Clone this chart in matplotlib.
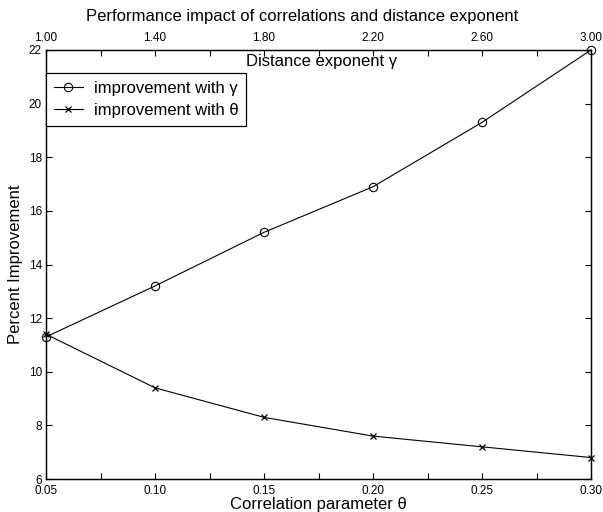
import numpy as np
import matplotlib
matplotlib.use("Agg")
import matplotlib.pyplot as plt

plt.rcParams['font.family'] = ['Liberation Sans', 'DejaVu Sans']

# data
theta = [0.05, 0.10, 0.15, 0.20, 0.25, 0.30]
imp_theta = [11.4, 9.4, 8.3, 7.6, 7.2, 6.8]

gamma = [1.00, 1.40, 1.80, 2.20, 2.60, 3.00]
imp_gamma = [11.3, 13.2, 15.2, 16.9, 19.3, 22.0]

theta_ticks = [0.05, 0.10, 0.15, 0.20, 0.25, 0.30]
gamma_ticks = [1.00, 1.40, 1.80, 2.20, 2.60, 3.00]
y_ticks = [6, 8, 10, 12, 14, 16, 18, 20, 22]

W, H = 603, 512
fig = plt.figure(figsize=(W / 100, H / 100), dpi=100)
ax = fig.add_axes([46 / W, (H - 479) / H, 545 / W, 429 / H])
ax2 = ax.twiny()

# bottom axis: correlation parameter
l_theta, = ax.plot(theta, imp_theta, color="black", linewidth=0.8,
                   marker="x", markersize=5, markeredgewidth=0.9,
                   label="improvement with θ", clip_on=False)
ax.set_xlim(0.05, 0.30)
ax.set_ylim(6, 22)
ax.set_xticks(theta_ticks)
ax.set_xticklabels([f"{t:.2f}" for t in theta_ticks])
ax.set_xticks(np.arange(0.075, 0.30, 0.05), minor=True)
ax.set_yticks(y_ticks)
ax.tick_params(axis="both", which="both", direction="in", length=4,
               labelsize=8.5, width=0.8)
ax.tick_params(axis="x", pad=4)
ax.tick_params(axis="y", pad=3, right=True)
ax.set_xlabel("Correlation parameter θ", fontsize=12, labelpad=0)
ax.set_ylabel("Percent Improvement", fontsize=12, labelpad=4)

# top axis: distance exponent
l_gamma, = ax2.plot(gamma, imp_gamma, color="black", linewidth=0.8,
                    marker="o", markersize=6, markerfacecolor="none",
                    markeredgewidth=0.8, label="improvement with γ",
                    clip_on=False)
ax2.set_xlim(1.0, 3.0)
ax2.set_xticks(gamma_ticks)
ax2.set_xticklabels([f"{g:.2f}" for g in gamma_ticks])
ax2.set_xticks(np.arange(1.2, 3.0, 0.4), minor=True)
ax2.tick_params(axis="x", which="both", direction="in", length=4,
                labelsize=8.5, pad=4, width=0.8)
ax2.text(0.505, 0.973, "Distance exponent γ", transform=ax2.transAxes,
         ha="center", va="center", fontsize=12)

for a in (ax, ax2):
    for s in a.spines.values():
        s.set_linewidth(0.9)

leg = ax2.legend(handles=[l_gamma, l_theta], loc="upper left",
                 bbox_to_anchor=(0.0, 0.946), borderaxespad=0,
                 fontsize=12, numpoints=1, handlelength=1.75,
                 handletextpad=0.65, labelspacing=0.45, borderpad=0.45,
                 fancybox=False, framealpha=1, edgecolor="black")
leg.get_frame().set_linewidth(0.9)

fig.text(302 / W, 1 - 17 / H,
         "Performance impact of correlations and distance exponent",
         ha="center", va="center", fontsize=12)

fig.savefig("out.png", dpi=100)
